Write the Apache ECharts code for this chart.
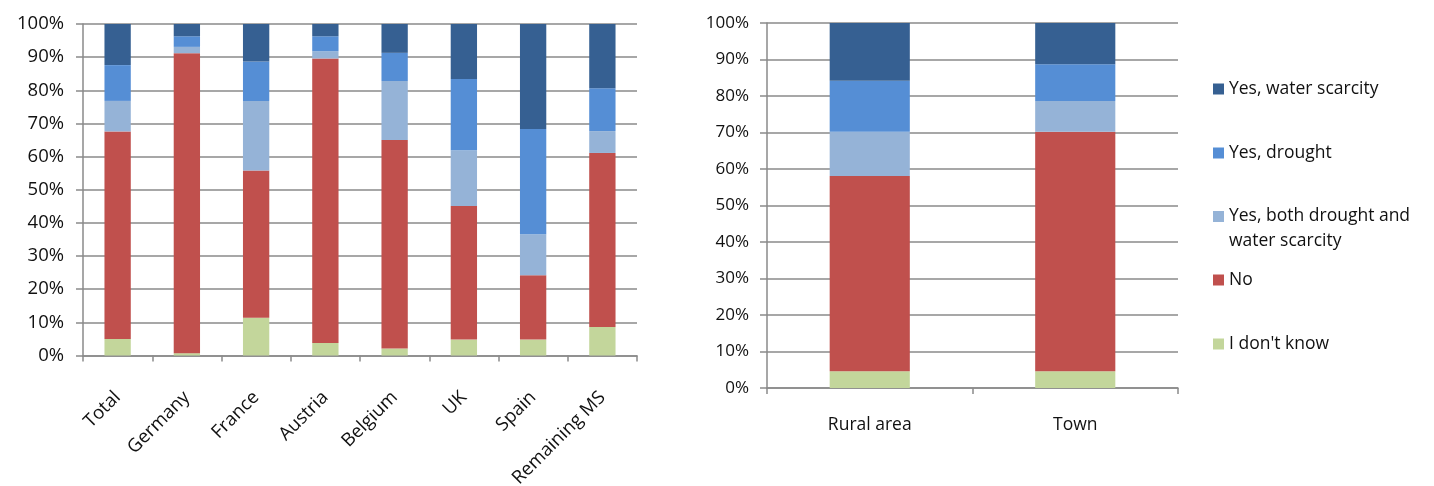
<!DOCTYPE html>
<html>
<head>
<meta charset="utf-8">
<script src="https://cdn.jsdelivr.net/npm/echarts@6/dist/echarts.min.js"></script>
<style>
  html, body { margin: 0; padding: 0; background: #fff; }
  #chart { width: 1434px; height: 486px; }
</style>
</head>
<body>
<div id="chart"></div>
<script>
// Shares of answers (%) by country
const countries = ['Total', 'Germany', 'France', 'Austria', 'Belgium', 'UK', 'Spain', 'Remaining MS'];
const countryDontKnow = [5.0, 0.7, 11.4, 3.8, 2.1, 4.8, 4.8, 8.6];
const countryNo       = [62.6, 90.5, 44.4, 85.8, 62.9, 40.3, 19.4, 52.5];
const countryBoth     = [9.2, 1.9, 21.0, 2.2, 17.8, 16.8, 12.4, 6.6];
const countryDrought  = [10.8, 3.2, 11.9, 4.5, 8.5, 21.5, 31.7, 12.9];
const countryScarcity = [12.4, 3.7, 11.3, 3.7, 8.7, 16.6, 31.7, 19.4];

// Shares of answers (%) by settlement type
const areas = ['Rural area', 'Town'];
const areaDontKnow = [4.6, 4.6];
const areaNo       = [53.5, 65.6];
const areaBoth     = [12.1, 8.4];
const areaDrought  = [14.0, 10.1];
const areaScarcity = [15.8, 11.3];

const percentTicks = [0, 10, 20, 30, 40, 50, 60, 70, 80, 90, 100];

const NAMES = {
  scarcity: 'Yes, water scarcity',
  drought: 'Yes, drought',
  both: 'Yes, both drought and water scarcity',
  no: 'No',
  dontKnow: "I don't know"
};
const COLORS = {
  scarcity: '#366092',
  drought: '#558ED5',
  both: '#95B3D7',
  no: '#C0504D',
  dontKnow: '#C3D69B'
};

const FONT = '"Open Sans", Lato, sans-serif';
const TEXT_COLOR = '#111';
const GRID_COLOR = '#8a8a8a';

function yAxis(gridIndex, size, margin) {
  return {
    type: 'value', gridIndex, min: percentTicks[0], max: percentTicks[percentTicks.length - 1], interval: 10,
    axisLine: { show: true, lineStyle: { color: GRID_COLOR, width: 1.5 } },
    axisTick: { show: true, length: 7, lineStyle: { color: GRID_COLOR, width: 1.5 } },
    splitLine: { show: true, lineStyle: { color: GRID_COLOR, width: 1.5 } },
    axisLabel: { formatter: '{value}%', color: TEXT_COLOR, fontFamily: FONT, fontSize: size, margin }
  };
}

function xAxis(gridIndex, data, label) {
  return {
    type: 'category', gridIndex, data,
    axisLine: { show: true, lineStyle: { color: GRID_COLOR, width: 1.5 } },
    axisTick: { show: true, length: 6, alignWithLabel: false, lineStyle: { color: GRID_COLOR, width: 1.5 } },
    splitLine: { show: false },
    axisLabel: Object.assign({ color: TEXT_COLOR, fontFamily: FONT, interval: 0 }, label)
  };
}

function stackSeries(idx, stack, barWidth, values) {
  return ['dontKnow', 'no', 'both', 'drought', 'scarcity'].map(key => ({
    type: 'bar', name: NAMES[key], stack, xAxisIndex: idx, yAxisIndex: idx,
    barWidth, data: values[key],
    itemStyle: { color: COLORS[key] },
    emphasis: { disabled: true }
  }));
}

// One legend block per entry so each can sit at its own height
function legendItem(key, top, extra) {
  return Object.assign({
    data: [NAMES[key]], orient: 'vertical', left: 1213, top, padding: 0,
    itemWidth: 11, itemHeight: 11, icon: 'rect',
    textStyle: { color: TEXT_COLOR, fontFamily: FONT, fontSize: 17.5, lineHeight: 25 }
  }, extra || {});
}

const chart = echarts.init(document.getElementById('chart'), null, { renderer: 'canvas' });

chart.setOption({
  animation: false,
  color: Object.values(COLORS),
  grid: [
    { left: 83, right: 1434 - 637, top: 24, bottom: 486 - 355.5, containLabel: false, outerBoundsMode: 'none' },
    { left: 767, right: 1434 - 1178, top: 23, bottom: 486 - 388, containLabel: false, outerBoundsMode: 'none' }
  ],
  xAxis: [
    xAxis(0, countries, { rotate: 45, fontSize: 18.5, margin: 39 }),
    xAxis(1, areas, { fontSize: 17.5, margin: 28 })
  ],
  yAxis: [yAxis(0, 18.5, 19), yAxis(1, 17, 18)],
  legend: [
    legendItem('scarcity', 89 - 12.5),
    legendItem('drought', 153 - 12.5),
    // blank first line keeps the marker level with the first line of the wrapped name
    legendItem('both', 216.5 - 37.5, {
      formatter: () => '\u00a0\nYes, both drought and\nwater scarcity'
    }),
    legendItem('no', 280 - 12.5),
    legendItem('dontKnow', 344 - 12.5)
  ],
  series: [
    ...stackSeries(0, 'country', '38%', {
      dontKnow: countryDontKnow, no: countryNo, both: countryBoth,
      drought: countryDrought, scarcity: countryScarcity
    }),
    ...stackSeries(1, 'area', '39%', {
      dontKnow: areaDontKnow, no: areaNo, both: areaBoth,
      drought: areaDrought, scarcity: areaScarcity
    })
  ]
});
</script>
</body>
</html>
